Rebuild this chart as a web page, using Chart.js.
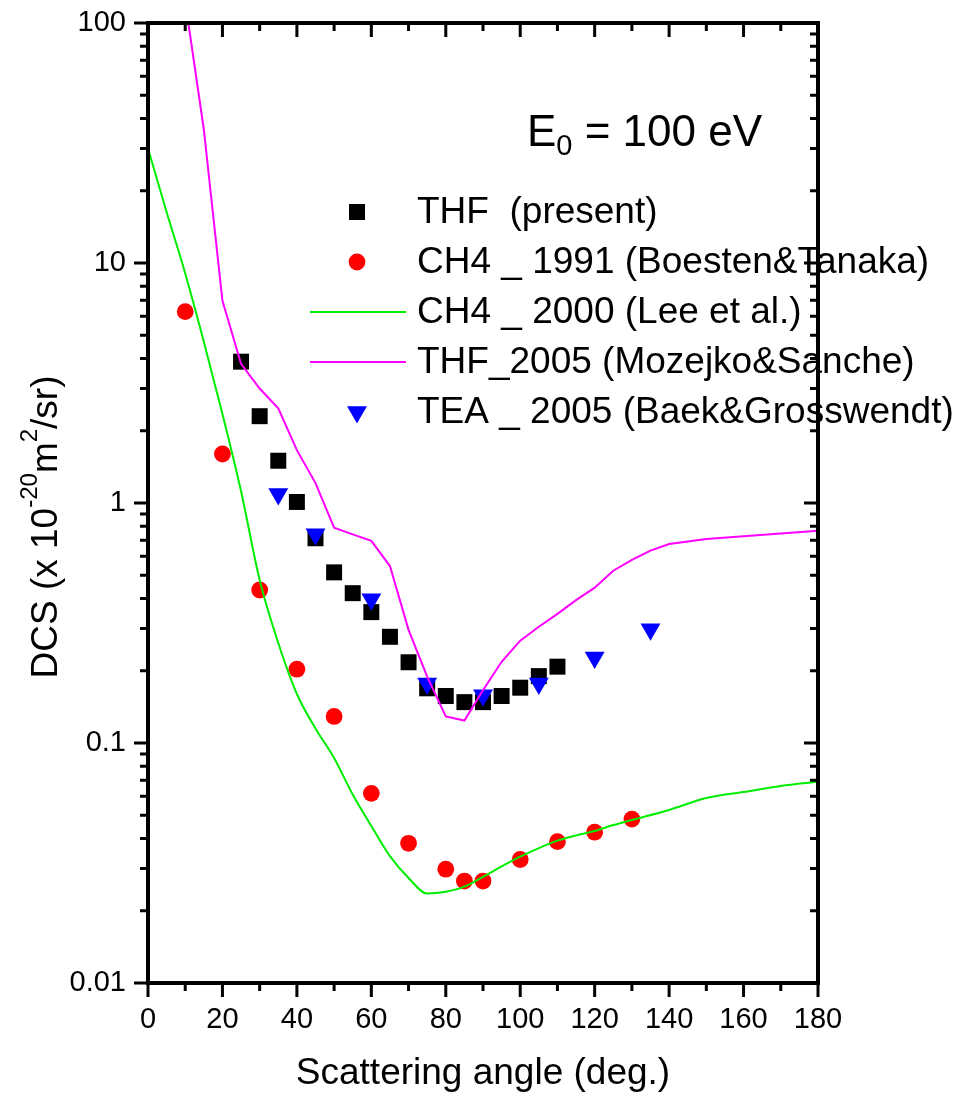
<!DOCTYPE html>
<html>
<head>
<meta charset="utf-8">
<script src="https://cdn.jsdelivr.net/npm/chart.js@4.4.0/dist/chart.umd.min.js"></script>
<style>
  html, body { margin: 0; padding: 0; background: #fff; }
  #wrap { width: 964px; height: 1094px; }
</style>
</head>
<body>
<div id="wrap"><canvas id="dcs" width="964" height="1094"></canvas></div>
<script>
// THF (present)
const thfAngle = [25, 30, 35, 40, 45, 50, 55, 60, 65, 70, 75, 80, 85, 90, 95, 100, 105, 110];
const thfDcs = [3.88, 2.30, 1.50, 1.01, 0.713, 0.514, 0.421, 0.351, 0.277, 0.217, 0.169, 0.157, 0.148, 0.148, 0.157, 0.170, 0.190, 0.208];

// CH4, Boesten & Tanaka 1991
const ch4bAngle = [10, 20, 30, 40, 50, 60, 70, 80, 85, 90, 100, 110, 120, 130];
const ch4bDcs = [6.27, 1.60, 0.434, 0.203, 0.129, 0.0617, 0.0382, 0.0298, 0.0266, 0.0266, 0.0327, 0.0388, 0.0425, 0.0482];

// CH4, Lee et al. 2000
const ch4lAngle = [0, 5, 10, 15, 20, 25, 30, 35, 40, 45, 50, 55, 60, 65, 70, 75, 80, 85, 90, 95, 100, 105, 110, 115, 120, 125, 130, 140, 150, 160, 170, 180];
const ch4lDcs = [30, 16.3, 9.05, 4.7, 2.35, 1.12, 0.478, 0.261, 0.160, 0.115, 0.0866, 0.061, 0.0451, 0.0338, 0.0274, 0.0236, 0.0240, 0.0252, 0.0277, 0.0306, 0.0336, 0.0365, 0.0392, 0.0412, 0.043, 0.0455, 0.0478, 0.0526, 0.059, 0.0625, 0.0662, 0.069];

// THF, Mozejko & Sanche 2005
const thf05Angle = [10, 15, 20, 25, 30, 35, 40, 45, 50, 55, 60, 65, 70, 75, 80, 85, 90, 95, 100, 105, 110, 115, 120, 125, 130, 135, 140, 150, 180];
const thf05Dcs = [123, 36, 6.96, 3.8, 3.0, 2.48, 1.66, 1.21, 0.789, 0.74, 0.695, 0.546, 0.296, 0.189, 0.129, 0.124, 0.166, 0.218, 0.267, 0.305, 0.345, 0.394, 0.444, 0.522, 0.58, 0.633, 0.675, 0.708, 0.767];

// TEA, Baek & Grosswendt 2005
const teaAngle = [35, 45, 60, 75, 90, 105, 120, 135];
const teaDcs = [1.09, 0.741, 0.397, 0.177, 0.158, 0.177, 0.227, 0.298];

const xMajor = [0, 20, 40, 60, 80, 100, 120, 140, 160, 180];
const xMinor = [10, 30, 50, 70, 90, 110, 130, 150, 170];
const yDecades = [-2, -1, 0, 1, 2];
const yTickLabels = ['0.01', '0.1', '1', '10', '100'];

const FONT = '"Liberation Sans", Arial, sans-serif';

const pts = (xs, ys) => xs.map((x, i) => ({ x: x, y: ys[i] }));

// draws a run of text pieces; pieces can be raised or lowered and shrunk
function richText(ctx, parts, x, y, size, centered) {
  let widths = parts.map(p => {
    ctx.font = Math.round(size * (p.scale || 1)) + 'px ' + FONT;
    return ctx.measureText(p.text).width;
  });
  let total = widths.reduce((a, b) => a + b, 0);
  let cx = centered ? x - total / 2 : x;
  ctx.textAlign = 'left';
  ctx.textBaseline = 'alphabetic';
  parts.forEach((p, i) => {
    ctx.font = Math.round(size * (p.scale || 1)) + 'px ' + FONT;
    ctx.fillText(p.text, cx, y + (p.dy || 0) * size);
    cx += widths[i];
  });
}

const decorations = {
  id: 'decorations',
  afterDraw(chart) {
    const ctx = chart.ctx;
    const a = chart.chartArea;
    const xs = chart.scales.x;
    const ys = chart.scales.y;
    ctx.save();
    ctx.fillStyle = '#000';

    // energy label
    richText(ctx, [
      { text: 'E' },
      { text: '0', scale: 0.65, dy: 0.2 },
      { text: ' = 100 eV' }
    ], 527, 146, 44, false);

    // legend
    let rowY = 212;
    chart.data.datasets.forEach(ds => {
      if (ds.showLine) {
        ctx.strokeStyle = ds.borderColor;
        ctx.lineWidth = ds.borderWidth;
        ctx.beginPath();
        ctx.moveTo(310, rowY);
        ctx.lineTo(406, rowY);
        ctx.stroke();
      } else {
        ctx.fillStyle = ds.backgroundColor;
        Chart.helpers.drawPoint(ctx, {
          pointStyle: ds.pointStyle,
          radius: ds.pointRadius,
          rotation: ds.rotation || 0,
          borderWidth: 0
        }, 357, rowY);
      }
      ctx.fillStyle = '#000';
      ctx.font = '37px ' + FONT;
      ctx.textAlign = 'left';
      ctx.textBaseline = 'middle';
      ctx.fillText(ds.label, 417, rowY + 1);
      rowY += 50;
    });

    // axis titles
    ctx.fillStyle = '#000';
    ctx.font = '37px ' + FONT;
    ctx.textAlign = 'center';
    ctx.textBaseline = 'alphabetic';
    ctx.fillText('Scattering angle (deg.)', (a.left + a.right) / 2, 1084);

    ctx.save();
    ctx.translate(57, 527);
    ctx.rotate(-Math.PI / 2);
    richText(ctx, [
      { text: 'DCS (x 10' },
      { text: '-20', scale: 0.65, dy: -0.55 },
      { text: 'm' },
      { text: '2', scale: 0.65, dy: -0.55 },
      { text: '/sr)' }
    ], 0, 0, 37, true);
    ctx.restore();

    // tick marks: outward on bottom/left, inward on top/right
    ctx.strokeStyle = '#000';
    ctx.lineWidth = 3;
    ctx.beginPath();
    const xTick = (v, len) => {
      const px = xs.getPixelForValue(v);
      ctx.moveTo(px, a.bottom); ctx.lineTo(px, a.bottom + len);
      ctx.moveTo(px, a.top); ctx.lineTo(px, a.top + len);
    };
    xMajor.forEach(v => xTick(v, 14));
    xMinor.forEach(v => xTick(v, 8));
    const yTick = (v, len) => {
      const py = ys.getPixelForValue(v);
      ctx.moveTo(a.left, py); ctx.lineTo(a.left - len, py);
      ctx.moveTo(a.right, py); ctx.lineTo(a.right - len, py);
    };
    yDecades.forEach((e, i) => {
      yTick(Math.pow(10, e), 14);
      if (i < yDecades.length - 1) {
        for (let m = 2; m <= 9; m++) yTick(m * Math.pow(10, e), 8);
      }
    });
    ctx.stroke();

    // frame
    ctx.lineWidth = 4;
    ctx.strokeRect(a.left, a.top, a.right - a.left, a.bottom - a.top);
    ctx.restore();
  }
};

new Chart(document.getElementById('dcs'), {
  type: 'scatter',
  data: {
    datasets: [
      {
        label: 'THF  (present)',
        data: pts(thfAngle, thfDcs),
        pointStyle: 'rect',
        pointRadius: 11.3,
        backgroundColor: '#000000',
        borderWidth: 0,
        order: 3
      },
      {
        label: 'CH4 _ 1991 (Boesten&Tanaka)',
        data: pts(ch4bAngle, ch4bDcs),
        pointStyle: 'circle',
        pointRadius: 8.4,
        backgroundColor: '#ff0000',
        borderWidth: 0,
        order: 4
      },
      {
        label: 'CH4 _ 2000 (Lee et al.)',
        data: pts(ch4lAngle, ch4lDcs),
        showLine: true,
        borderColor: '#00ee00',
        borderWidth: 2,
        pointRadius: 0,
        cubicInterpolationMode: 'monotone',
        clip: 0,
        order: 1
      },
      {
        label: 'THF_2005 (Mozejko&Sanche)',
        data: pts(thf05Angle, thf05Dcs),
        showLine: true,
        borderColor: '#ff00ff',
        borderWidth: 2,
        pointRadius: 0,
        tension: 0,
        clip: 0,
        order: 0
      },
      {
        label: 'TEA _ 2005 (Baek&Grosswendt)',
        data: pts(teaAngle, teaDcs),
        pointStyle: 'triangle',
        rotation: 180,
        pointRadius: 11.5,
        backgroundColor: '#0000ff',
        borderWidth: 0,
        order: 2
      }
    ]
  },
  options: {
    responsive: false,
    animation: false,
    devicePixelRatio: 1,
    layout: { autoPadding: false, padding: { top: 23, right: 146, left: 0, bottom: 0 } },
    plugins: {
      legend: { display: false },
      tooltip: { enabled: false }
    },
    scales: {
      x: {
        type: 'linear',
        min: 0,
        max: 180,
        grid: { display: false, drawTicks: false },
        border: { display: false },
        ticks: {
          stepSize: 20,
          padding: 20,
          color: '#000',
          font: { family: FONT, size: 29 },
          maxRotation: 0
        },
        afterFit(scale) { scale.height = 111; }
      },
      y: {
        type: 'logarithmic',
        min: 0.01,
        max: 100,
        grid: { display: false, drawTicks: false },
        border: { display: false },
        ticks: {
          autoSkip: false,
          padding: 22,
          color: '#000',
          font: { family: FONT, size: 29 },
          callback(value) {
            const e = Math.log10(value);
            if (Math.abs(e - Math.round(e)) > 1e-6) return null;
            return yTickLabels[yDecades.indexOf(Math.round(e))];
          }
        },
        afterFit(scale) {
          scale.width = 148;
          // end labels may overhang the plot edges
          scale.paddingTop = 0;
          scale.paddingBottom = 0;
        }
      }
    }
  },
  plugins: [decorations]
});
</script>
</body>
</html>
